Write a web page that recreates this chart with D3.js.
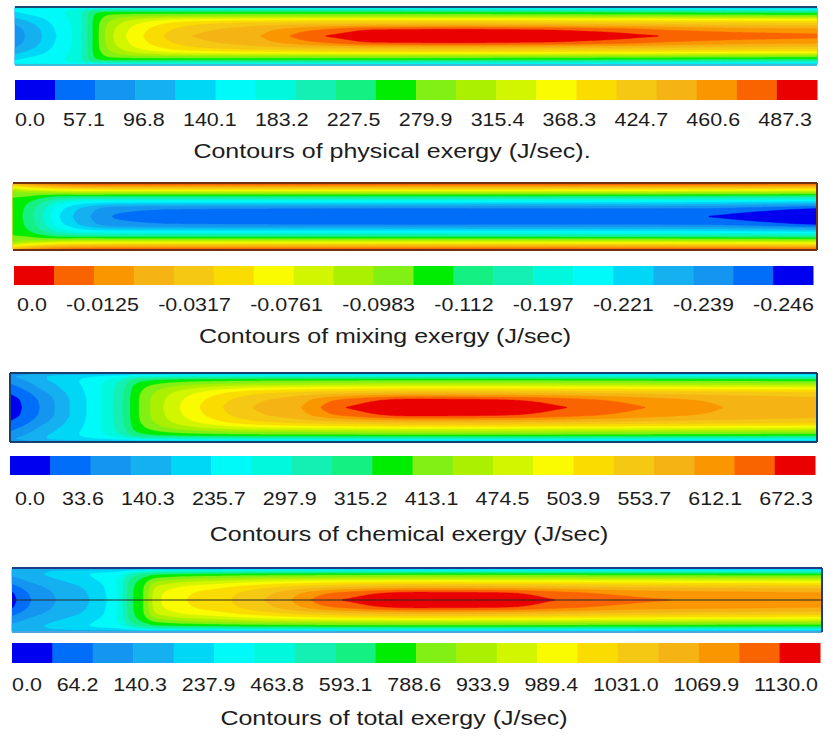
<!DOCTYPE html>
<html>
<head>
<meta charset="utf-8">
<script src="https://cdn.jsdelivr.net/npm/d3@7"></script>
<style>
  body { margin: 0; background: #fff; }
  text { font-family: "Liberation Sans", Arial, sans-serif; fill: #1c1c1c; }
</style>
</head>
<body>
<svg id="chart" width="835" height="736"></svg>
<script>
// ---- 20-level rainbow colormap (blue -> cyan -> green -> yellow -> red) ----
const levelColors = [
  "#0000f0", "#006ef8", "#1496f0", "#14b0f0", "#00d6f5",
  "#00fafa", "#00f8dc", "#14f0b4", "#14f082", "#00ec00",
  "#82f014", "#aaf000", "#d2f500", "#fafa00", "#fadc00",
  "#f5c814", "#f5b414", "#fa9600", "#fa6400", "#eb0000"
];

// ---- colour-bar tick labels ----
const physicalTicks = ["0.0", "57.1", "96.8", "140.1", "183.2", "227.5", "279.9", "315.4", "368.3", "424.7", "460.6", "487.3"];
const mixingTicks   = ["0.0", "-0.0125", "-0.0317", "-0.0761", "-0.0983", "-0.112", "-0.197", "-0.221", "-0.239", "-0.246"];
const chemicalTicks = ["0.0", "33.6", "140.3", "235.7", "297.9", "315.2", "413.1", "474.5", "503.9", "553.7", "612.1", "672.3"];
const totalTicks    = ["0.0", "64.2", "140.3", "237.9", "463.8", "593.1", "788.6", "933.9", "989.4", "1031.0", "1069.9", "1130.0"];

const titles = [
  "Contours of physical exergy (J/sec).",
  "Contours of mixing exergy (J/sec)",
  "Contours of chemical exergy (J/sec)",
  "Contours of total exergy (J/sec)"
];

// ---- contour level fields (colour-bar level units, 0..20) ----
// radial stations: 0 = axis, 1 = wall (field is symmetric about the axis)
const radialStations = [0, 0.2, 0.4, 0.55, 0.7, 0.8, 0.9, 1.0];

// axial stations: 0 = inlet, 1 = outlet; one row of radial levels per station
const physicalAxial = [0, 0.02, 0.05, 0.08, 0.1, 0.12, 0.16, 0.22, 0.3, 0.38, 0.45, 0.55, 0.65, 0.75, 0.82, 0.9, 1.0];
const physicalLevels = [
  [2.5, 2.6, 3.0, 3.6, 4.3, 4.8, 5.2, 4.5],
  [3.3, 3.4, 3.8, 4.3, 4.9, 5.3, 5.5, 4.5],
  [4.9, 5.0, 5.2, 5.4, 5.6, 5.7, 5.6, 4.5],
  [6.6, 6.6, 6.6, 6.6, 6.7, 6.7, 6.3, 4.3],
  [9.4, 9.4, 9.4, 9.3, 9.1, 8.8, 7.2, 4.2],
  [11.8, 11.7, 11.4, 10.9, 10.2, 9.4, 7.4, 4.1],
  [14.0, 13.8, 13.3, 12.4, 10.7, 9.4, 7.4, 4.0],
  [16.0, 15.6, 14.8, 13.4, 10.9, 9.4, 7.4, 4.0],
  [16.9, 16.6, 15.6, 13.8, 10.9, 9.4, 7.4, 3.9],
  [18.95, 18.1, 16.0, 14.0, 10.9, 9.4, 7.3, 3.8],
  [19.6, 19.1, 16.2, 14.1, 10.9, 9.4, 7.2, 3.6],
  [19.8, 19.25, 16.3, 14.1, 10.9, 9.3, 7.1, 3.4],
  [19.7, 19.1, 16.2, 14.0, 10.8, 9.2, 7.0, 3.2],
  [19.4, 18.6, 16.0, 13.9, 10.7, 9.1, 6.9, 3.0],
  [18.95, 18.0, 15.9, 13.8, 10.6, 9.0, 6.8, 2.8],
  [18.6, 17.6, 15.7, 13.7, 10.5, 8.9, 6.6, 2.5],
  [18.3, 17.4, 15.5, 13.6, 10.4, 8.8, 6.4, 2.2]
];

// mixing exergy: level 0 is the left (0.0) end of its colour bar
const mixingAxial = [0, 0.015, 0.037, 0.058, 0.096, 0.13, 0.25, 0.5, 0.75, 0.85, 0.92, 1.0];
const mixingLevels = [
  [10.3, 10.3, 10.2, 10.0, 9.5, 8.4, 6.0, 2.5],
  [11.2, 11.1, 10.8, 10.2, 9.1, 7.4, 4.8, 1.6],
  [13.0, 12.8, 12.1, 11.0, 9.0, 6.8, 3.9, 1.0],
  [15.0, 14.7, 13.6, 11.8, 8.8, 6.2, 3.3, 0.8],
  [17.0, 16.7, 14.9, 12.2, 8.6, 5.9, 2.9, 0.6],
  [18.1, 17.8, 15.2, 12.3, 8.6, 5.8, 2.8, 0.6],
  [18.3, 18.1, 15.3, 12.3, 8.6, 5.8, 2.8, 0.6],
  [18.4, 18.2, 15.3, 12.3, 8.6, 5.8, 2.8, 0.6],
  [18.5, 18.2, 15.4, 12.4, 8.7, 5.9, 2.9, 0.6],
  [18.95, 18.3, 15.5, 12.5, 8.8, 6.0, 3.0, 0.6],
  [19.4, 18.7, 15.7, 12.6, 8.9, 6.1, 3.1, 0.6],
  [19.7, 19.3, 16.0, 12.8, 9.1, 6.3, 3.3, 0.7]
];

const chemicalAxial = [0, 0.015, 0.037, 0.074, 0.11, 0.14, 0.155, 0.19, 0.235, 0.3, 0.36, 0.41, 0.5, 0.6, 0.7, 0.79, 0.9, 1.0];
const chemicalLevels = [
  [0.3, 0.5, 1.0, 1.5, 2.0, 2.4, 2.8, 2.0],
  [1.0, 1.1, 1.5, 2.0, 2.5, 2.9, 3.2, 2.2],
  [2.0, 2.1, 2.5, 3.0, 3.4, 3.7, 3.8, 2.5],
  [4.0, 4.0, 4.2, 4.4, 4.6, 4.7, 4.5, 2.8],
  [5.8, 5.8, 5.8, 5.8, 5.8, 5.6, 5.0, 3.0],
  [8.0, 8.0, 7.9, 7.8, 7.5, 7.0, 5.6, 3.0],
  [9.6, 9.6, 9.5, 9.3, 8.9, 8.2, 6.2, 3.0],
  [12.0, 11.9, 11.6, 11.0, 10.0, 9.0, 6.5, 3.0],
  [14.0, 13.8, 13.2, 12.2, 10.6, 9.3, 6.7, 3.0],
  [16.0, 15.7, 14.8, 13.2, 11.0, 9.5, 6.8, 3.0],
  [17.0, 16.7, 15.5, 13.6, 11.1, 9.6, 6.8, 3.0],
  [18.95, 18.2, 16.0, 13.8, 11.2, 9.6, 6.8, 3.0],
  [19.7, 19.35, 16.5, 14.0, 11.3, 9.7, 6.8, 3.0],
  [19.6, 19.2, 16.4, 14.0, 11.3, 9.7, 6.8, 3.0],
  [18.95, 18.4, 16.2, 13.9, 11.2, 9.6, 6.7, 3.0],
  [18.0, 17.5, 15.9, 13.8, 11.1, 9.5, 6.6, 3.0],
  [16.9, 16.7, 15.6, 13.6, 11.0, 9.4, 6.5, 3.0],
  [16.5, 16.3, 15.4, 13.5, 10.9, 9.3, 6.4, 3.0]
];

const totalAxial = [0, 0.01, 0.04, 0.096, 0.13, 0.148, 0.162, 0.18, 0.27, 0.33, 0.40, 0.5, 0.6, 0.68, 0.78, 0.9, 1.0];
const totalLevels = [
  [0.5, 0.8, 1.5, 2.2, 2.8, 3.2, 3.5, 2.5],
  [1.3, 1.5, 2.0, 2.6, 3.1, 3.4, 3.6, 2.5],
  [2.6, 2.7, 3.0, 3.4, 3.8, 4.0, 3.9, 2.5],
  [4.0, 4.1, 4.3, 4.6, 4.9, 5.0, 4.5, 2.5],
  [6.0, 6.0, 6.0, 6.0, 5.9, 5.6, 4.8, 2.5],
  [8.8, 8.8, 8.7, 8.5, 7.9, 7.2, 5.5, 2.5],
  [10.0, 10.0, 9.9, 9.6, 8.9, 8.1, 6.0, 2.5],
  [12.8, 12.7, 12.2, 11.2, 9.9, 8.8, 6.4, 2.5],
  [15.0, 14.8, 14.0, 12.7, 10.8, 9.3, 6.6, 2.5],
  [16.5, 16.2, 15.0, 13.4, 11.1, 9.5, 6.7, 2.5],
  [18.95, 18.2, 15.9, 13.9, 11.3, 9.6, 6.8, 2.5],
  [19.7, 19.35, 16.6, 14.2, 11.4, 9.7, 6.8, 2.5],
  [19.6, 19.2, 16.5, 14.1, 11.4, 9.7, 6.8, 2.5],
  [18.95, 18.4, 16.2, 14.0, 11.3, 9.6, 6.7, 2.5],
  [18.2, 17.6, 15.9, 13.8, 11.2, 9.5, 6.6, 2.5],
  [17.7, 17.3, 15.7, 13.7, 11.1, 9.4, 6.5, 2.5],
  [17.4, 17.1, 15.6, 13.6, 11.0, 9.3, 6.4, 2.5]
];

// ---- panel layout and styling ----
const tickSize = 19, tickStretch = 1.13;
const titleSize = 21, titleStretch = 1.19;

const panels = [
  { ticks: physicalTicks, axial: physicalAxial, levels: physicalLevels, reversed: false, title: titles[0],
    plot: { x0: 15, x1: 817, y0: 7, y1: 65 },
    edges: { top: "#1b4a70", bottom: "#3cbcd8", left: null, right: null }, axisLine: null,
    bar: { x0: 15, x1: 817, y0: 80, y1: 100 },
    tickRow: { x0: 15, x1: 812, y: 126 }, titlePos: { x: 392, y: 158 } },
  { ticks: mixingTicks, axial: mixingAxial, levels: mixingLevels, reversed: true, title: titles[1],
    plot: { x0: 13, x1: 817, y0: 183, y1: 250 },
    edges: { top: "#6e3210", bottom: "#6e3210", left: null, right: "#6e3210" }, axisLine: null,
    bar: { x0: 14, x1: 813, y0: 266, y1: 285 },
    tickRow: { x0: 17, x1: 814, y: 311 }, titlePos: { x: 385, y: 343 } },
  { ticks: chemicalTicks, axial: chemicalAxial, levels: chemicalLevels, reversed: false, title: titles[2],
    plot: { x0: 10, x1: 817, y0: 373, y1: 442 },
    edges: { top: "#15406e", bottom: "#15406e", left: "#15406e", right: "#15406e" }, axisLine: null,
    bar: { x0: 10, x1: 815, y0: 456, y1: 475 },
    tickRow: { x0: 15, x1: 813, y: 505 }, titlePos: { x: 409, y: 541 } },
  { ticks: totalTicks, axial: totalAxial, levels: totalLevels, reversed: false, title: titles[3],
    plot: { x0: 12, x1: 822, y0: 568, y1: 632 },
    edges: { top: "#1e3c8a", bottom: "#4aa6dc", left: null, right: "#1e3c8a" }, axisLine: "#2a2a2a",
    bar: { x0: 12, x1: 820, y0: 643, y1: 663 },
    tickRow: { x0: 12, x1: 818, y: 691 }, titlePos: { x: 394, y: 725 } }
];

// ---- helpers ----
// monotone piecewise-cubic (Fritsch–Carlson) interpolant through the given stations
function monotoneCubic(xs, ys) {
  const n = xs.length, h = [], d = [], m = new Array(n);
  for (let i = 0; i < n - 1; i++) { h[i] = xs[i + 1] - xs[i]; d[i] = (ys[i + 1] - ys[i]) / h[i]; }
  m[0] = d[0]; m[n - 1] = d[n - 2];
  for (let i = 1; i < n - 1; i++) {
    if (d[i - 1] * d[i] <= 0) m[i] = 0;
    else {
      const w1 = 2 * h[i] + h[i - 1], w2 = h[i] + 2 * h[i - 1];
      m[i] = (w1 + w2) / (w1 / d[i - 1] + w2 / d[i]);
    }
  }
  return x => {
    let i = d3.bisectRight(xs, x) - 1;
    i = Math.max(0, Math.min(n - 2, i));
    const t = (x - xs[i]) / h[i], t2 = t * t, t3 = t2 * t;
    return (2 * t3 - 3 * t2 + 1) * ys[i] + (t3 - 2 * t2 + t) * h[i] * m[i]
         + (-2 * t3 + 3 * t2) * ys[i + 1] + (t3 - t2) * h[i] * m[i + 1];
  };
}

// resample the station table onto a regular grid covering the full channel height
function sampleField(axial, levels, nx, ny) {
  const radialFns = levels.map(row => monotoneCubic(radialStations, row));
  const values = new Float64Array(nx * ny);
  for (let j = 0; j < ny; j++) {
    const r = Math.abs((j + 0.5) / ny - 0.5) * 2;
    const axialFn = monotoneCubic(axial, radialFns.map(f => f(r)));
    for (let i = 0; i < nx; i++) values[j * nx + i] = axialFn((i + 0.5) / nx);
  }
  return values;
}

const svg = d3.select("#chart");
const nx = 480, ny = 72;
const thresholds = d3.range(1, 20);

panels.forEach((p, pi) => {
  const colors = p.reversed ? levelColors.slice().reverse() : levelColors;
  const g = svg.append("g").attr("class", "panel-" + pi);

  // filled contour bands
  const sx = d3.scaleLinear().domain([0, nx]).range([p.plot.x0, p.plot.x1]);
  const sy = d3.scaleLinear().domain([0, ny]).range([p.plot.y0, p.plot.y1]);
  const path = d3.geoPath(d3.geoTransform({
    point(x, y) { this.stream.point(sx(x), sy(y)); }
  }));
  const values = sampleField(p.axial, p.levels, nx, ny);
  const bands = d3.contours().size([nx, ny]).thresholds(thresholds)(values);

  const field = g.append("g");
  field.append("rect")
    .attr("x", p.plot.x0).attr("y", p.plot.y0)
    .attr("width", p.plot.x1 - p.plot.x0).attr("height", p.plot.y1 - p.plot.y0)
    .attr("fill", colors[0]);
  field.selectAll("path").data(bands).join("path")
    .attr("d", path)
    .attr("fill", d => colors[d.value])
    .attr("stroke", d => colors[d.value])
    .attr("stroke-width", 0.4);

  // wall / boundary edges
  const edgeDefs = [
    ["top", p.plot.x0, p.plot.y0, p.plot.x1, p.plot.y0],
    ["bottom", p.plot.x0, p.plot.y1, p.plot.x1, p.plot.y1],
    ["left", p.plot.x0, p.plot.y0, p.plot.x0, p.plot.y1],
    ["right", p.plot.x1, p.plot.y0, p.plot.x1, p.plot.y1]
  ].filter(e => p.edges[e[0]]);
  g.selectAll("line.edge").data(edgeDefs).join("line")
    .attr("class", "edge")
    .attr("x1", d => d[1]).attr("y1", d => d[2]).attr("x2", d => d[3]).attr("y2", d => d[4])
    .attr("stroke", d => p.edges[d[0]]).attr("stroke-width", 2);

  if (p.axisLine) {
    g.append("line")
      .attr("x1", p.plot.x0).attr("x2", p.plot.x1)
      .attr("y1", sy(ny / 2)).attr("y2", sy(ny / 2))
      .attr("stroke", p.axisLine).attr("stroke-width", 1);
  }

  // discrete colour bar
  const bx = d3.scaleBand().domain(d3.range(colors.length)).range([p.bar.x0, p.bar.x1]).padding(0);
  g.selectAll("rect.swatch").data(colors).join("rect")
    .attr("class", "swatch")
    .attr("x", (d, i) => bx(i)).attr("y", p.bar.y0)
    .attr("width", bx.bandwidth() + 0.5).attr("height", p.bar.y1 - p.bar.y0)
    .attr("fill", d => d);

  // tick labels, spread evenly across the bar width
  const labels = g.selectAll("text.tick").data(p.ticks).join("text")
    .attr("class", "tick")
    .attr("font-size", tickSize)
    .text(d => d);
  const widths = labels.nodes().map(n => n.getComputedTextLength() * tickStretch);
  const gap = (p.tickRow.x1 - p.tickRow.x0 - d3.sum(widths)) / (p.ticks.length - 1);
  const starts = [];
  widths.reduce((x, w) => { starts.push(x); return x + w + gap; }, p.tickRow.x0);
  labels.attr("transform", (d, i) => `translate(${starts[i]},${p.tickRow.y}) scale(${tickStretch},1)`);

  // caption
  g.append("text")
    .attr("class", "title")
    .attr("font-size", titleSize)
    .attr("text-anchor", "middle")
    .attr("transform", `translate(${p.titlePos.x},${p.titlePos.y}) scale(${titleStretch},1)`)
    .text(p.title);
});
</script>
</body>
</html>
